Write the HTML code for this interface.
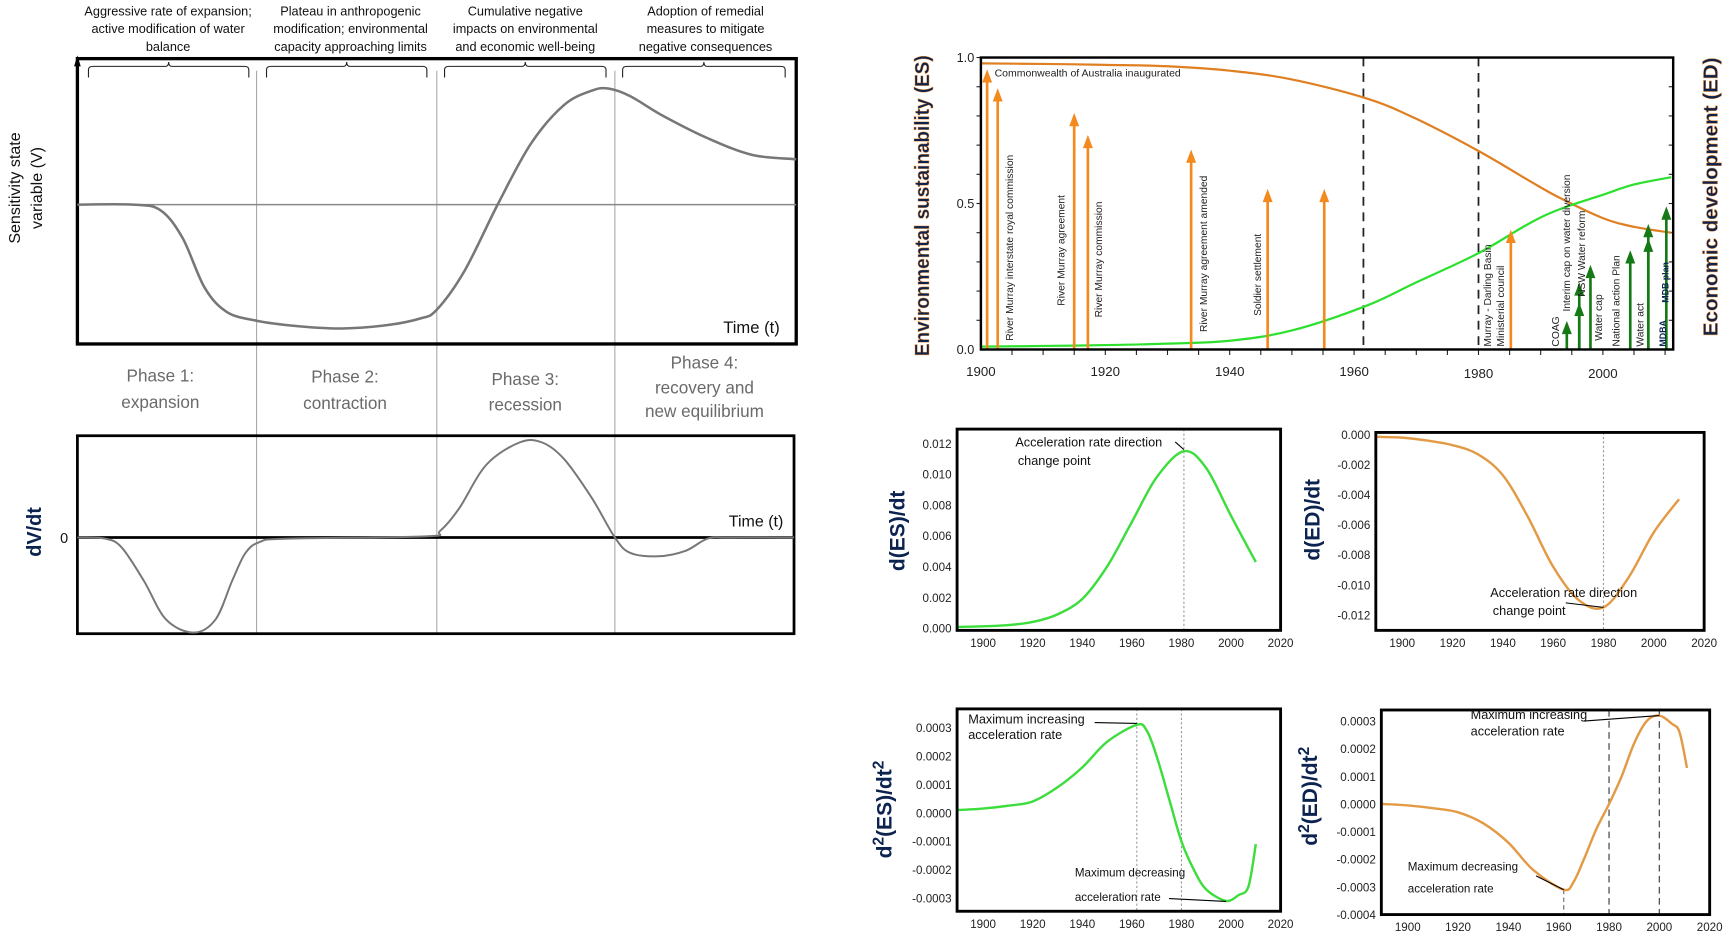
<!DOCTYPE html>
<html><head><meta charset="utf-8"><style>
html,body{margin:0;padding:0;background:#fff;}
svg{display:block;font-family:"Liberation Sans",sans-serif;}
</style></head><body>
<svg id="fig" width="1734" height="950" viewBox="0 0 1568 859" xmlns="http://www.w3.org/2000/svg"></svg>
<script>
// ---------- data ----------
const schemT = [0,50,75,95,115,135,162,200,240,280,310,325,350,380,410,440,465,480,500,530,570,610,650];
const schemV = [0,0,-5,-30,-75,-97,-105,-110,-112,-109,-103,-95,-60,0,55,90,103,105,98,80,60,45,41];
const dvT = [0,25,40,60,80,105,125,140,152,165,190,315,328,345,370,400,420,440,465,486,500,525,550,570,590,648];
const dvV = [0,-1,-9,-39,-74,-86,-74,-39,-14,-4,-1,1,6,26,66,86,86,71,36,0,-14,-17,-12,-1,0,0];

const years = [1900,1910,1920,1930,1940,1950,1962,1970,1980,1988,1993,2000,2005,2011];
const edValues = [0.98,0.978,0.975,0.97,0.955,0.925,0.86,0.79,0.68,0.58,0.52,0.45,0.42,0.40];
const esValues = [0.01,0.012,0.015,0.02,0.03,0.065,0.15,0.23,0.33,0.43,0.48,0.53,0.565,0.59];
const mainYTicks = [0,0.5,1.0];
const mainYTickLabels = ["0.0","0.5","1.0"];
const mainXTicks = [1900,1920,1940,1960,1980,2000];
const orangeArrowYears = [1901,1902.7,1915,1917.2,1933.8,1946.1,1955.2,1985.2];
const orangeArrowTops = [0.96,0.895,0.81,0.735,0.685,0.55,0.55,0.41];
const greenArrowYears = [1994.2,1996.2,1996.2,1998,2004.4,2007.3,2007.3,2010.2];
const greenArrowTops = [0.098,0.16,0.23,0.29,0.34,0.38,0.43,0.49];
const eventLabels = ["River Murray interstate royal commission","River Murray  agreement","River Murray  commission","River Murray agreement amended","Soldier  settlement","Murray - Darling Basin","Ministerial  council","COAG","Interim cap on water diversion","NSW Water reform","Water cap","National  action Plan","Water act"];
const eventYears = [1904.6,1912.9,1918.9,1935.8,1944.5,1981.5,1983.6,1992.4,1994.2,1996.6,1999.3,2002.1,2006];
const eventBottoms = [0.03,0.15,0.11,0.06,0.115,0.01,0.01,0.01,0.13,0.18,0.03,0.01,0.01];

const derivYearTicks = [1900,1920,1940,1960,1980,2000,2020];
const esdYears = [1890,1900,1910,1920,1930,1940,1950,1960,1970,1981,1990,2000,2010];
const esdValues = [0.00008,0.00012,0.0002,0.0004,0.0009,0.0019,0.0040,0.0069,0.0098,0.0115,0.0104,0.0073,0.0043];
const esdTicks = [0,0.002,0.004,0.006,0.008,0.010,0.012];
const esdTickLabels = ["0.000","0.002","0.004","0.006","0.008","0.010","0.012"];
const eddYears = [1890,1900,1910,1920,1930,1940,1950,1960,1970,1980,1990,2000,2010];
const eddValues = [-0.00015,-0.0002,-0.0004,-0.0007,-0.0013,-0.0027,-0.0055,-0.0088,-0.0110,-0.0115,-0.0095,-0.0065,-0.0043];
const eddTicks = [0,-0.002,-0.004,-0.006,-0.008,-0.010,-0.012];
const eddTickLabels = ["0.000","-0.002","-0.004","-0.006","-0.008","-0.010","-0.012"];
const es2Years = [1890,1900,1910,1920,1930,1940,1950,1962,1966,1970,1975,1980,1985,1990,1998,2003,2007,2010];
const es2Values = [0.00001,0.000015,0.000025,0.00004,0.00009,0.00016,0.00025,0.00031,0.00029,0.0002,0.00005,-0.0001,-0.0002,-0.00027,-0.00031,-0.00029,-0.00026,-0.00011];
const es2Ticks = [0.0003,0.0002,0.0001,0,-0.0001,-0.0002,-0.0003];
const es2TickLabels = ["0.0003","0.0002","0.0001","0.0000","-0.0001","-0.0002","-0.0003"];
const ed2Years = [1890,1900,1910,1920,1930,1940,1950,1962,1966,1970,1975,1980,1985,1990,1995,2000,2005,2008,2011];
const ed2Values = [0,-0.000005,-0.000015,-0.00003,-0.00007,-0.00014,-0.00024,-0.00031,-0.00028,-0.0002,-0.00009,0,0.0001,0.00022,0.0003,0.00032,0.00029,0.00026,0.00013];
const ed2Ticks = [0.0003,0.0002,0.0001,0,-0.0001,-0.0002,-0.0003,-0.0004];
const ed2TickLabels = ["0.0003","0.0002","0.0001","0.0000","-0.0001","-0.0002","-0.0003","-0.0004"];

// ---------- helpers ----------
const svg = document.getElementById('fig');
const NS = 'http://www.w3.org/2000/svg';
function mk(tag, attrs, parent, text){
  const e = document.createElementNS(NS, tag);
  for (const k in attrs) e.setAttribute(k, attrs[k]);
  if (text !== undefined) e.textContent = text;
  (parent || svg).appendChild(e);
  return e;
}
function smoothPath(pts){
  let d = 'M' + pts[0][0].toFixed(1) + ',' + pts[0][1].toFixed(1);
  for (let i = 0; i < pts.length - 1; i++){
    const p0 = pts[i-1] || pts[i], p1 = pts[i], p2 = pts[i+1], p3 = pts[i+2] || p2;
    const c1 = [p1[0] + (p2[0]-p0[0])/6, p1[1] + (p2[1]-p0[1])/6];
    const c2 = [p2[0] - (p3[0]-p1[0])/6, p2[1] - (p3[1]-p1[1])/6];
    d += 'C' + c1[0].toFixed(1)+','+c1[1].toFixed(1)+' '+c2[0].toFixed(1)+','+c2[1].toFixed(1)+' '+p2[0].toFixed(1)+','+p2[1].toFixed(1);
  }
  return d;
}
function lin(d0,d1,r0,r1){ return v => r0 + (v-d0)/(d1-d0)*(r1-r0); }

// ---------- LEFT SCHEMATIC ----------
const sx = lin(0,650,70,720);
const sy = lin(0,100,185,85);
const dx = lin(0,648,70,718);
const dy = lin(0,100,486,386);

const topTexts = [
  [152,["Aggressive rate of expansion;","active modification of water","balance"]],
  [317,["Plateau in anthropogenic","modification; environmental","capacity approaching limits"]],
  [475,["Cumulative negative","impacts on environmental","and economic well-being"]],
  [638,["Adoption of remedial","measures to mitigate","negative consequences"]]
];
topTexts.forEach((t,i)=>{
  const tx = mk('text',{x:t[0],y:14,'text-anchor':'middle','font-size':'11.5',fill:'#111'});
  
  
  t[1].forEach((l,j)=>{ mk('tspan',{x:t[0],y:14+j*16},tx,l); });
});
[[80,225],[241,386],[402,548],[563,710]].forEach((b,i)=>{
  const m=(b[0]+b[1])/2;
  const p = mk('path',{d:`M${b[0]},70 L${b[0]},63 Q${b[0]},60 ${b[0]+4},60 L${m-3},60 Q${m},60 ${m},56 Q${m},60 ${m+3},60 L${b[1]-4},60 Q${b[1]},60 ${b[1]},63 L${b[1]},70`,fill:'none',stroke:'#222','stroke-width':'1'});
  
  
});
[232,395,556].forEach((x,i)=>{
  const l = mk('line',{x1:x,y1:64,x2:x,y2:573,stroke:'#aaa','stroke-width':'1'});
  
  
});
let e = mk('rect',{x:70,y:53,width:650,height:258,fill:'none',stroke:'#000','stroke-width':'3'});
 
e = mk('path',{d:'M67,60 L70,50 L73,60 Z',fill:'#000'});
 
e = mk('line',{x1:70,y1:sy(0),x2:720,y2:sy(0),stroke:'#888','stroke-width':'1.3'});
 
e = mk('path',{d:smoothPath(schemT.map((t,i)=>[sx(t),sy(schemV[i])])),fill:'none',stroke:'#777','stroke-width':'2.3'});
 
e = mk('text',{x:654,y:301,'font-size':'15',fill:'#111'},svg,'Time (t)');
 
e = mk('text',{transform:'translate(18,170) rotate(-90)','text-anchor':'middle','font-size':'14.5',fill:'#111'},svg,'Sensitivity  state');
 
e = mk('text',{transform:'translate(38,170) rotate(-90)','text-anchor':'middle','font-size':'14.5',fill:'#111'},svg,'variable (V)');
 
const phaseLabels = [[145,[345,369],["Phase 1:","expansion"]],[312,[346,370],["Phase 2:","contraction"]],[475,[348,371],["Phase 3:","recession"]],[637,[333,356,377],["Phase 4:","recovery and","new equilibrium"]]];
phaseLabels.forEach((p,i)=>{
  const t = mk('text',{'text-anchor':'middle','font-size':'15.5',fill:'#6a6a6a'});
  
  
  p[2].forEach((l,j)=>mk('tspan',{x:p[0],y:p[1][j]},t,l));
});
e = mk('rect',{x:70,y:394,width:648,height:179,fill:'none',stroke:'#000','stroke-width':'2.5'});
 
e = mk('line',{x1:70,y1:dy(0),x2:718,y2:dy(0),stroke:'#000','stroke-width':'2.5'});
 
e = mk('path',{d:smoothPath(dvT.map((t,i)=>[dx(t),dy(dvV[i])])),fill:'none',stroke:'#777','stroke-width':'1.8'});
 
e = mk('text',{x:58,y:491,'font-size':'13',fill:'#111','text-anchor':'middle'},svg,'0');
 
e = mk('text',{x:659,y:476,'font-size':'14.5',fill:'#111'},svg,'Time (t)');
 
e = mk('text',{transform:'translate(37,481) rotate(-90)','text-anchor':'middle','font-size':'18','font-weight':'bold',fill:'#0c2350'},svg,'dV/dt');
 

// ---------- MAIN CHART ----------
const mx = lin(1900,2011.3,887,1513);
const my = lin(0,1,316,52);
for (let yr=1905; yr<=2010; yr+=5){
  e = mk('line',{x1:mx(yr),y1:316,x2:mx(yr),y2:321,stroke:'#222','stroke-width':'1'});
   
}
for (let v=0.1; v<1; v+=0.1){
  e = mk('line',{x1:1509,y1:my(v),x2:1513,y2:my(v),stroke:'#222','stroke-width':'1'});
   
  e = mk('line',{x1:887,y1:my(v),x2:883,y2:my(v),stroke:'#222','stroke-width':'1'});
   
}
[1961.5,1980].forEach((yr,i)=>{
  e = mk('line',{x1:mx(yr),y1:52,x2:mx(yr),y2:316,stroke:'#222','stroke-width':'1.6','stroke-dasharray':'8,6'});
   
});
e = mk('path',{d:smoothPath(years.map((y,i)=>[mx(y),my(edValues[i])])),fill:'none',stroke:'#e07f22','stroke-width':'2'});
 
e = mk('path',{d:smoothPath(years.map((y,i)=>[mx(y),my(esValues[i])])),fill:'none',stroke:'#2ee02e','stroke-width':'2'});
 
function arrow(yr, top, color, name){
  const x = mx(yr), yt = my(top);
  const g = mk('g',{});
  
  
  mk('line',{x1:x,y1:316,x2:x,y2:yt+10,stroke:color,'stroke-width':'2.4'},g);
  mk('path',{d:`M${x-4.5},${yt+12} L${x},${yt} L${x+4.5},${yt+12} Z`,fill:color},g);
}
orangeArrowYears.forEach((yr,i)=>arrow(yr,orangeArrowTops[i],'#f4891e','policy-arrow-orange'));
greenArrowYears.forEach((yr,i)=>arrow(yr,greenArrowTops[i],'#157a15','policy-arrow-green'));
eventLabels.forEach((lab,i)=>{
  const t = mk('text',{transform:`translate(${mx(eventYears[i])+3},${my(eventBottoms[i])}) rotate(-90)`,'font-size':'9.3',fill:'#222'},svg,lab);
  
  
});
e = mk('text',{transform:`translate(${mx(2009.6)+3},${my(0.01)}) rotate(-90)`,'font-size':'8','font-weight':'bold',fill:'#0c2350'},svg,'MDBA');
 
e = mk('text',{transform:`translate(${mx(2009.9)+3.5},${my(0.16)}) rotate(-90)`,'font-size':'8','font-weight':'bold',fill:'#0c2350'},svg,'MDB plan');
 
e = mk('text',{x:mx(1902.2),y:my(0.935),'font-size':'9.5',fill:'#222'},svg,'Commonwealth of Australia inaugurated');
 
e = mk('rect',{x:887,y:52,width:626,height:264,fill:'none',stroke:'#000','stroke-width':'2.2'});
 
mainYTicks.forEach((v,i)=>{
  const t = mk('text',{x:881,y:my(v)+4,'font-size':'11.5','text-anchor':'end',fill:'#222'},svg,mainYTickLabels[i]);
   
});
mainXTicks.forEach((v,i)=>{
  const t = mk('text',{x:mx(v),y:340 + (v>=1980?2:0),'font-size':'12','text-anchor':'middle',fill:'#222'},svg,String(v));
   
});
e = mk('text',{transform:'translate(840,186) rotate(-90)','text-anchor':'middle','font-size':'18.5','font-weight':'bold',fill:'#0c2350',stroke:'#f08a24','stroke-width':'0.4',textLength:'272',lengthAdjust:'spacingAndGlyphs'},svg,'Environmental sustainability (ES)');
 
e = mk('text',{transform:'translate(1553,178) rotate(-90)','text-anchor':'middle','font-size':'18.5','font-weight':'bold',fill:'#0c2350',stroke:'#f08a24','stroke-width':'0.4',textLength:'252',lengthAdjust:'spacingAndGlyphs'},svg,'Economic development (ED)');
 

// ---------- derivative charts ----------
function derivChart(o){
  const X = lin(1900, 2020, o.xa, o.xb);
  const Y = lin(o.v0, o.v1, o.py0, o.py1);
  const left = X(1889.5), right = X(2020);
  const g = mk('g',{});
  
  
  o.vlines.forEach(v=>{
    const ln = mk('line',{x1:X(v[0]),y1:v[1]===undefined?o.top:Y(v[1]),x2:X(v[0]),y2:o.bottom,stroke:v[2]||'#999','stroke-width':v[3]||'1','stroke-dasharray':v[4]||'2,2'},g);
    
    
  });
  const c = mk('path',{d:smoothPath(o.years.map((y,i)=>[X(y),Y(o.values[i])])),fill:'none',stroke:o.color,'stroke-width':'2.2'},g);
  
  
  const fr = mk('rect',{x:left,y:o.top,width:right-left,height:o.bottom-o.top,fill:'none',stroke:'#000','stroke-width':'2.6'},g);
  
  
  o.ticks.forEach((v,i)=>{
    const t = mk('text',{x:left-5,y:Y(v)+4,'font-size':'10.5','text-anchor':'end',fill:'#222'},g,o.tickLabels[i]);
    
    
  });
  derivYearTicks.forEach(v=>{
    const t = mk('text',{x:X(v),y:o.bottom+15,'font-size':'10.5','text-anchor':'middle',fill:'#222'},g,String(v));
    
    
  });
  o.notes.forEach(n=>{
    const t = mk('text',{x:X(n[0]),y:Y(n[1]),'font-size':n[3]||'11.5',fill:'#111'},g,n[2]);
    
    
  });
  o.leaders.forEach(l=>{
    const ln = mk('line',{x1:X(l[0]),y1:Y(l[1]),x2:X(l[2]),y2:Y(l[3]),stroke:'#000','stroke-width':'1'},g);
    
    
  });
  const tt = mk('text',{transform:`translate(${o.titleX},${o.titleY}) rotate(-90)`,'text-anchor':'middle','font-size':'19','font-weight':'bold',fill:'#0c2350'},g);
  
  
  o.title.forEach(s=>{ mk('tspan',s[1]?{'baseline-shift':'super','font-size':'14'}:{},tt,s[0]); });
}
derivChart({name:'des-dt-chart',xa:889,xb:1158,v0:0,v1:0.012,py0:568,py1:401,top:388,bottom:570,
  years:esdYears,values:esdValues,color:'#3ddd3d',ticks:esdTicks,tickLabels:esdTickLabels,
  vlines:[[1981]],notes:[[1913,0.0118,'Acceleration rate direction'],[1914,0.0106,'change point']],
  leaders:[[1977.5,0.0121,1981,0.0116]],title:[['d(ES)/dt']],titleX:818,titleY:480});
derivChart({name:'ded-dt-chart',xa:1268,xb:1541,v0:0,v1:-0.012,py0:393,py1:556,top:391,bottom:570,
  years:eddYears,values:eddValues,color:'#e39a45',ticks:eddTicks,tickLabels:eddTickLabels,
  vlines:[[1980]],notes:[[1935,-0.0108,'Acceleration rate direction'],[1936,-0.0120,'change point']],
  leaders:[[1965,-0.0112,1980,-0.0115]],title:[['d(ED)/dt']],titleX:1193,titleY:470});
derivChart({name:'d2es-dt2-chart',xa:889,xb:1158,v0:0,v1:0.0003,py0:735,py1:658,top:641,bottom:824,
  years:es2Years,values:es2Values,color:'#3ddd3d',ticks:es2Ticks,tickLabels:es2TickLabels,
  vlines:[[1962],[1980]],notes:[[1894,0.000315,'Maximum increasing'],[1894,0.00026,'acceleration rate'],[1937,-0.000225,'Maximum decreasing','10.5'],[1937,-0.00031,'acceleration rate','10.5']],
  leaders:[[1945,0.000318,1962,0.000315],[1975,-0.000302,1998,-0.000312]],title:[['d'],['2',1],['(ES)/dt'],['2',1]],titleX:806,titleY:732});
derivChart({name:'d2ed-dt2-chart',xa:1273,xb:1546,v0:0,v1:0.0003,py0:727,py1:652,top:642,bottom:827,
  years:ed2Years,values:ed2Values,color:'#e39a45',ticks:ed2Ticks,tickLabels:ed2TickLabels,
  vlines:[[1962,-0.00031,'#666','1','4,3'],[1980,undefined,'#555','1.2','6,4'],[2000,undefined,'#555','1.2','6,4']],
  notes:[[1925,0.000308,'Maximum increasing'],[1925,0.000248,'acceleration rate'],[1900,-0.00024,'Maximum decreasing','10.5'],[1900,-0.00032,'acceleration rate','10.5']],
  leaders:[[1970,0.0003,2000,0.00032],[1951,-0.00026,1962,-0.00031]],title:[['d'],['2',1],['(ED)/dt'],['2',1]],titleX:1191,titleY:720});
</script>
</body></html>
